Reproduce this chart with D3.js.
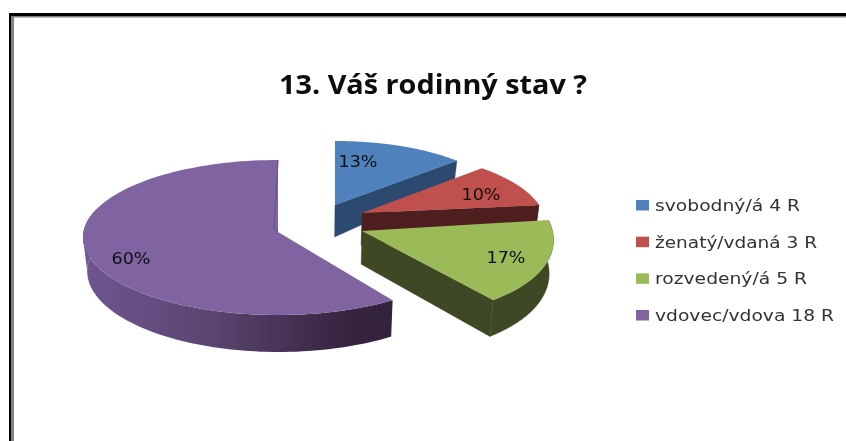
<!DOCTYPE html>
<html><head><meta charset="utf-8">
<script src="https://cdn.jsdelivr.net/npm/d3@7"></script>
<style>html,body{margin:0;padding:0;background:#fff}svg{display:block}</style>
</head><body><svg id="c" width="846" height="441"></svg>
<script>
const chartTitle = "13. Váš rodinný stav ?";
const categories = ["svobodný/á", "ženatý/vdaná", "rozvedený/á", "vdovec/vdova"];
const respondents = [4, 3, 5, 18];
const percentLabels = ["13%", "10%", "17%", "60%"];
const topColors = ["#4f81bd", "#c0504d", "#9bbb59", "#8064a2"];
const faceColors = ["#2c4a70", "#4f1f1f", "#3f4824", "#35233f"];

// perspective model of the exploded pie, per slice
const pieCentre = {x: 313, y: 222};
const explode = [[22, -17], [49, -9], [49, 9], [-35, 10]];
const radiusX = [164, 180, 190, 195];
const radiusY = [60, 65.5, 87.6, 77.5];
const centreDrop = [-4, -1, -1.8, 5.5];
const skew = [0, 20.8, 24, 0];
const labelOffset = [[23, -44], [119, -19], [144, 26], [-147, 26]];
const legendWidths = [145, 162, 152, 179];

const svg = d3.select("#c");
const depthAt = d3.scaleLinear().domain([160, 205, 315]).range([22, 32, 37]).clamp(true);
const converge = 0.018;
const slices = d3.pie().sort(null).value(d => d)(respondents);

const defs = svg.append("defs");
const wallGrad = defs.append("linearGradient").attr("id", "wall")
  .attr("gradientUnits", "userSpaceOnUse").attr("x1", 87).attr("x2", 395).attr("y1", 0).attr("y2", 0);
[[0, "#6f5590"], [0.4, "#5a4670"], [0.85, "#35233f"], [1, "#33223d"]]
  .forEach(([o, c]) => wallGrad.append("stop").attr("offset", o).attr("stop-color", c));
defs.append("filter").attr("id", "soft").append("feGaussianBlur").attr("stdDeviation", 0.35);

const line = d3.line().curve(d3.curveLinear);
const range = (a, b, n = 80) => d3.range(n + 1).map(i => a + (b - a) * i / n);

const labelLayer = [];
slices.forEach((s, i) => {
  const ax = pieCentre.x + explode[i][0], ay = pieCentre.y + explode[i][1];
  const rim = t => [ax + radiusX[i] * Math.sin(t) - skew[i] * Math.cos(t),
                    ay + centreDrop[i] - radiusY[i] * Math.cos(t)];
  const drop = p => [p[0] - converge * (p[0] - pieCentre.x), p[1] + depthAt(p[1])];
  const apex = [ax, ay];
  const a0 = s.startAngle, a1 = s.endAngle;
  const g = svg.append("g").attr("class", "slice");

  if (i < 3) {
    const e = rim(a1);
    g.append("path").attr("d", line([apex, e, drop(e), drop(apex)]) + "Z")
      .attr("fill", faceColors[i]).attr("stroke", faceColors[i]).attr("stroke-width", 0.4);
  }
  const w0 = Math.max(a0, Math.PI * 0.45), w1 = Math.min(a1, Math.PI * 1.6);
  if (w1 > w0) {
    const top = range(w0, w1).map(rim);
    g.append("path").attr("d", line(top.concat(top.map(drop).reverse())) + "Z")
      .attr("fill", i === 3 ? "url(#wall)" : faceColors[i])
      .attr("stroke", i === 3 ? "none" : faceColors[i]).attr("stroke-width", 0.4);
  }
  if (i === 3) {
    const top = range(Math.PI * 1.5, Math.PI * 1.62).map(rim);
    g.append("path").attr("d", line(top.concat(top.map(drop).reverse())) + "Z").attr("fill", "#6f5590");
  }
  const arcPts = range(a0, a1, 120).map(rim);
  g.append("path").attr("d", line([apex].concat(arcPts)) + "Z").attr("fill", topColors[i]);
  if (i === 3) {
    const e = rim(a1);
    g.append("path").attr("d", line([e, [ax - 4, ay - 4], apex])).attr("fill", "none")
      .attr("stroke", "#6b5389").attr("stroke-width", 1.2);
  }
  labelLayer.push({x: ax + labelOffset[i][0], y: ay + labelOffset[i][1] + 6, t: percentLabels[i]});
});

const textLayer = svg.append("g").attr("filter", "url(#soft)");
textLayer.selectAll("text.pct").data(labelLayer).join("text").attr("class", "pct")
  .attr("x", d => d.x).attr("y", d => d.y).attr("text-anchor", "middle")
  .style("font-family", "'DejaVu Sans',sans-serif").attr("font-size", 16.5).attr("fill", "#111")
  .attr("textLength", 39).attr("lengthAdjust", "spacingAndGlyphs").text(d => d.t);

// frame
const W = 846, H = 441;
svg.append("path").attr("d", `M9 ${H}V13H${W}V16H11V${H}Z`).attr("fill", "#000");
svg.append("path").attr("d", `M11 ${H}V16H${W}V17.5H14V${H}Z`).attr("fill", "#808080");

// title
textLayer.append("text").attr("x", 279).attr("y", 94).attr("font-size", 26).attr("font-weight", "bold")
  .style("font-family", "'Open Sans',sans-serif").attr("fill", "#0a0a0a")
  .attr("textLength", 308).attr("lengthAdjust", "spacingAndGlyphs").text(chartTitle);

// legend
const legendY = d3.scalePoint().domain(categories).range([205, 315]);
const legend = svg.append("g").selectAll("g").data(categories).join("g")
  .attr("transform", d => `translate(636,${legendY(d)})`);
legend.append("rect").attr("x", 0).attr("y", -5).attr("width", 13).attr("height", 10.5)
  .attr("fill", (d, i) => topColors[i]);
legend.append("text").attr("x", 19).attr("y", 6).attr("font-size", 15).attr("fill", "#333")
  .attr("filter", "url(#soft)")
  .style("font-family", "'DejaVu Sans',sans-serif")
  .attr("textLength", (d, i) => legendWidths[i]).attr("lengthAdjust", "spacingAndGlyphs")
  .text((d, i) => `${d} ${respondents[i]} R`);
</script></body></html>
